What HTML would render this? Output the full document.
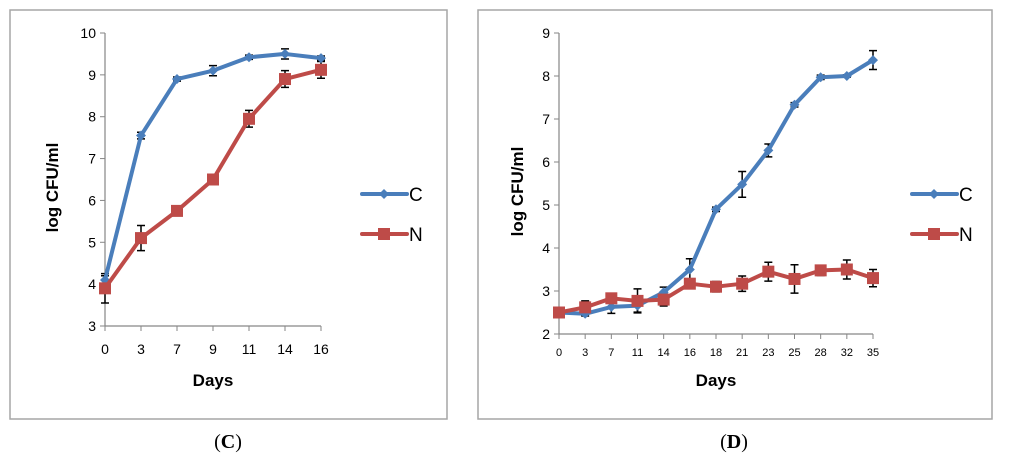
<!DOCTYPE html>
<html><head><meta charset="utf-8"><style>
body{margin:0;background:#fff;width:1024px;height:466px;overflow:hidden}
svg{display:block;font-family:"Liberation Sans",sans-serif}
</style></head><body>
<svg id="s" width="1024" height="466"></svg>
<script>
const catsC=["0","3","7","9","11","14","16"];
const cValsC=[4.1,7.55,8.9,9.1,9.42,9.5,9.4];
const cErrC=[0.1,0.08,0.05,0.12,0.05,0.12,0.05];
const nValsC=[3.9,5.1,5.75,6.5,7.95,8.9,9.12];
const nErrC=[0.35,0.3,0.05,0.05,0.2,0.2,0.2];
const yTicksC=[3,4,5,6,7,8,9,10];
const catsD=["0","3","7","11","14","16","18","21","23","25","28","32","35"];
const cValsD=[2.5,2.47,2.63,2.66,2.97,3.5,4.9,5.48,6.27,7.33,7.97,8.0,8.37];
const cErrD=[0.05,0.05,0.15,0.15,0.12,0.25,0.05,0.3,0.15,0.05,0.05,0.03,0.22];
const nValsD=[2.5,2.62,2.83,2.77,2.8,3.17,3.1,3.17,3.45,3.28,3.48,3.5,3.3];
const nErrD=[0.03,0.15,0.05,0.28,0.15,0.1,0.12,0.18,0.22,0.33,0.12,0.22,0.2];
const yTicksD=[2,3,4,5,6,7,8,9];
const NS="http://www.w3.org/2000/svg";
const svg=document.getElementById('s');
function el(t,a,p){const e=document.createElementNS(NS,t);for(const k in a)e.setAttribute(k,a[k]);(p||svg).appendChild(e);return e;}
function chart(o){
  const g=el('g',{});
  
  
  const fr=el('rect',{x:o.fx,y:10,width:o.fw,height:409,fill:'none',stroke:'#a6a6a6','stroke-width':1.5},g);
  
  
  const ymin=o.yt[0],ymax=o.yt[o.yt.length-1];
  const Y=v=>o.y1+(ymax-v)/(ymax-ymin)*(o.y0-o.y1);
  const n=o.cats.length;
  const X=i=>o.x0+i*(o.x1-o.x0)/(n-1);
  el('line',{x1:o.x0,y1:o.y1,x2:o.x0,y2:o.y0,stroke:'#868686','stroke-width':1.2},g);
  el('line',{x1:o.x0,y1:o.y0,x2:o.x1,y2:o.y0,stroke:'#868686','stroke-width':1.2},g);
  o.yt.forEach(v=>{
    el('line',{x1:o.x0-5,y1:Y(v),x2:o.x0,y2:Y(v),stroke:'#868686'},g);
    const t=el('text',{x:o.x0-9,y:Y(v)+5,'text-anchor':'end','font-size':14,fill:'#000'},g);
    t.textContent=v;
    
    
  });
  o.cats.forEach((c,i)=>{
    el('line',{x1:X(i),y1:o.y0,x2:X(i),y2:o.y0+5,stroke:'#868686'},g);
    const t=el('text',{x:X(i),y:o.y0+o.xlo,'text-anchor':'middle','font-size':o.xfs,fill:'#000'},g);
    t.textContent=c;
    
    
  });
  const xt=el('text',{x:(o.x0+o.x1)/2,y:386,'text-anchor':'middle','font-size':17,'font-weight':'bold'},g);
  xt.textContent='Days';
  
  
  const yt=el('text',{x:0,y:0,'text-anchor':'middle','font-size':17,'font-weight':'bold',transform:`translate(${o.x0-o.yto},${(o.y0+o.y1)/2+8}) rotate(-90)`},g);
  yt.textContent='log CFU/ml';
  
  
  const series=[{v:o.c,e:o.ce,col:'#4a7ebb',m:'d',nm:'C'},{v:o.nv,e:o.ne,col:'#be4b48',m:'s',nm:'N'}];
  series.forEach(s=>{
    s.v.forEach((v,i)=>{
      const x=X(i);
      const a=el('path',{d:`M${x},${Y(v+s.e[i])}V${Y(v-s.e[i])}M${x-4},${Y(v+s.e[i])}h8M${x-4},${Y(v-s.e[i])}h8`,stroke:'#000','stroke-width':1.5,fill:'none'},g);
      
      
    });
  });
  series.forEach(s=>{
    const ln=el('polyline',{points:s.v.map((v,i)=>X(i)+','+Y(v)).join(' '),fill:'none',stroke:s.col,'stroke-width':4,'stroke-linejoin':'round'},g);
    
    
    s.v.forEach((v,i)=>{
      const x=X(i),y=Y(v);
      const mk=s.m==='d'?el('path',{d:`M${x},${y-5}L${x+5},${y}L${x},${y+5}L${x-5},${y}Z`,fill:s.col},g):el('rect',{x:x-6,y:y-6,width:12,height:12,fill:s.col},g);
      
      
    });
  });
  [[194,series[0]],[234,series[1]]].forEach(([ly,s])=>{
    const lg=el('g',{},g);
    
    
    el('line',{x1:o.lx,y1:ly,x2:o.lx+45,y2:ly,stroke:s.col,'stroke-width':4,'stroke-linecap':'round'},lg);
    const cx=o.lx+22;
    if(s.m==='d')el('path',{d:`M${cx},${ly-5}L${cx+5},${ly}L${cx},${ly+5}L${cx-5},${ly}Z`,fill:s.col},lg);
    else el('rect',{x:cx-6,y:ly-6,width:12,height:12,fill:s.col},lg);
    const t=el('text',{x:o.lx+47,y:ly+7,'font-size':19},lg);t.textContent=s.nm;
  });
  const cap=el('text',{x:o.capx,y:448,'text-anchor':'middle','font-size':20,'font-family':'Liberation Serif, serif'},g);
  cap.innerHTML='(<tspan font-weight="bold">'+o.cap+'</tspan>)';
  
  
}
chart({name:'chart-c',fx:10,fw:437,x0:105,x1:321,y1:33,y0:326,yt:yTicksC,cats:catsC,c:cValsC,ce:cErrC,nv:nValsC,ne:nErrC,lx:362,xfs:14,xlo:28,capx:228,cap:'C',yto:47});
chart({name:'chart-d',fx:478,fw:514,x0:559,x1:873,y1:33,y0:334,yt:yTicksD,cats:catsD,c:cValsD,ce:cErrD,nv:nValsD,ne:nErrD,lx:912,xfs:11,xlo:22,capx:734,cap:'D',yto:36});
</script>
</body></html>
